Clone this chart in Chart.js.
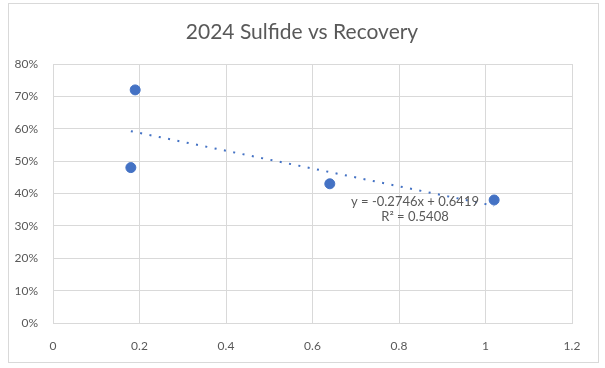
<!DOCTYPE html>
<html>
<head>
<meta charset="utf-8">
<script src="https://cdn.jsdelivr.net/npm/chart.js@4"></script>
<style>
  html, body { margin: 0; padding: 0; background: #fff; }
  #wrap { position: relative; width: 605px; height: 368px; }
  #frame { position: absolute; left: 8px; top: 3px; width: 589px; height: 358px; border: 1px solid #d9d9d9; pointer-events: none; }
  canvas { position: absolute; left: 0; top: 0; }
</style>
</head>
<body>
<div id="wrap">
  <canvas id="chart" width="605" height="368"></canvas>
  <div id="frame"></div>
</div>
<script>
// sulfide (x) vs recovery (y)
const sulfide = [0.18, 0.19, 0.64, 1.02]
const recovery = [0.48, 0.72, 0.43, 0.38]
const xTicks = [0, 0.2, 0.4, 0.6, 0.8, 1, 1.2]
const yTicks = [0, 0.1, 0.2, 0.3, 0.4, 0.5, 0.6, 0.7, 0.8]

// linear trendline as shown on the chart
const slope = -0.2746
const intercept = 0.6419
const rSquared = 0.5408
const trendX = [Math.min(...sulfide), Math.max(...sulfide)]

const titleText = '2024 Sulfide vs Recovery'
const blue = '#4472C4'
const grey = '#595959'
const gridColor = '#d9d9d9'
const fontFamily = "Lato, 'Open Sans', sans-serif"

// title centred on the whole chart box, not only the padded area
const chartTitle = {
  id: 'chartTitle',
  afterDraw(chart) {
    const {ctx} = chart
    ctx.save()
    ctx.fillStyle = grey
    ctx.font = "21px " + fontFamily
    ctx.textAlign = 'center'
    ctx.textBaseline = 'middle'
    ctx.fillText(titleText, 302, 32)
    ctx.restore()
  }
}

const equationLabel = {
  id: 'equationLabel',
  afterDatasetsDraw(chart) {
    const {ctx, scales} = chart
    const x = scales.x.getPixelForValue(0.837)
    const y = scales.y.getPixelForValue(0.374)
    ctx.save()
    ctx.fillStyle = grey
    ctx.font = "13px " + fontFamily
    ctx.textAlign = 'center'
    ctx.textBaseline = 'middle'
    ctx.fillText('y = ' + slope.toFixed(4) + 'x + ' + intercept.toFixed(4), x, y)
    ctx.fillText('R\u00b2 = ' + rSquared.toFixed(4), x, y + 15)
    ctx.restore()
  }
}

const ctx = document.getElementById('chart').getContext('2d')
new Chart(ctx, {
  type: 'scatter',
  data: {
    datasets: [
      {
        label: 'Recovery',
        data: sulfide.map((s, i) => ({x: s, y: recovery[i]})),
        backgroundColor: blue,
        borderColor: blue,
        pointRadius: 5,
        pointHoverRadius: 5,
        order: 1
      },
      {
        label: 'Linear trend',
        type: 'line',
        data: trendX.map(x => ({x: x, y: slope * x + intercept})),
        borderColor: blue,
        borderWidth: 2,
        borderDash: [2, 7.5],
        pointRadius: 0,
        fill: false,
        order: 2
      }
    ]
  },
  plugins: [chartTitle, equationLabel],
  options: {
    responsive: false,
    animation: false,
    layout: {padding: {left: 0, right: 33, top: 64, bottom: 0}},
    plugins: {
      legend: {display: false},
      tooltip: {enabled: false},
      title: {display: false}
    },
    scales: {
      x: {
        type: 'linear',
        min: 0,
        max: 1.2,
        afterBuildTicks: (scale) => { scale.ticks = xTicks.map(v => ({value: v})) },
        afterFit: (scale) => { scale.height = 45 },
        grid: {color: gridColor, drawTicks: false},
        border: {color: gridColor},
        ticks: {
          color: grey,
          padding: 16,
          font: {family: fontFamily, size: 12},
          callback: (v) => String(Math.round(v * 10) / 10)
        }
      },
      y: {
        type: 'linear',
        min: 0,
        max: 0.8,
        afterBuildTicks: (scale) => { scale.ticks = yTicks.map(v => ({value: v})) },
        afterFit: (scale) => { scale.width = 53 },
        grid: {color: gridColor, drawTicks: false},
        border: {color: gridColor},
        ticks: {
          color: grey,
          padding: 15,
          font: {family: fontFamily, size: 12},
          callback: (v) => Math.round(v * 100) + '%'
        }
      }
    }
  }
})
</script>
</body>
</html>
